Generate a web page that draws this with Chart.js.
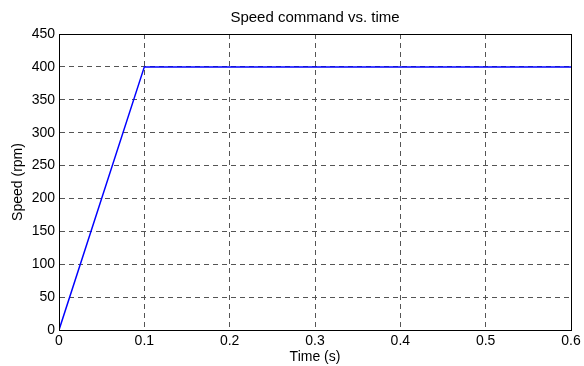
<!DOCTYPE html>
<html>
<head>
<meta charset="utf-8">
<script src="https://cdn.jsdelivr.net/npm/chart.js@4/dist/chart.umd.min.js"></script>
<style>
  html, body { margin: 0; padding: 0; background: #fff; }
  #wrap { width: 584px; height: 366px; }
</style>
</head>
<body>
<div id="wrap"><canvas id="speedchart"></canvas></div>
<script>
// speed command: ramp to 400 rpm in 0.1 s, then hold
const timeS = [0, 0.1, 0.6];
const speedRpm = [0, 400, 400];
const xTicks = [0, 0.1, 0.2, 0.3, 0.4, 0.5, 0.6];
const yTicks = [0, 50, 100, 150, 200, 250, 300, 350, 400, 450];
const chartTitle = 'Speed command vs. time';

const FONT = 'Liberation Sans, Arial, Helvetica, sans-serif';

// box round the plot, like matlab, and the title centred over the axes
const frame = {
    id: 'frame',
    afterDatasetsDraw(chart) {
        const {ctx, chartArea: a} = chart;
        ctx.save();
        ctx.strokeStyle = '#000';
        ctx.lineWidth = 1;
        ctx.setLineDash([]);
        ctx.strokeRect(Math.round(a.left) + 0.5, Math.round(a.top) + 0.5,
            Math.round(a.right - a.left), Math.round(a.bottom - a.top));
        ctx.fillStyle = '#000';
        ctx.font = '15px ' + FONT;
        ctx.textAlign = 'center';
        ctx.textBaseline = 'middle';
        ctx.fillText(chartTitle, (a.left + a.right) / 2, 18);
        ctx.restore();
    }
};

new Chart('speedchart', {
    type: 'scatter',
    data: {
        datasets: [{
            data: timeS.map((t, i) => ({x: t, y: speedRpm[i]})),
            showLine: true,
            borderColor: '#0000ff',
            borderWidth: 1.5,
            pointRadius: 0,
            fill: false
        }]
    },
    options: {
        responsive: true,
        maintainAspectRatio: false,
        animation: false,
        layout: {padding: {left: 10, right: 13, top: 34, bottom: 0}},
        plugins: {
            legend: {display: false},
            tooltip: {enabled: false},
            title: {display: false}
        },
        scales: {
            x: {
                type: 'linear',
                min: 0, max: 0.6,
                afterBuildTicks: s => { s.ticks = xTicks.map(v => ({value: v})); },
                afterFit: s => { s.height = 36; },
                ticks: {
                    color: '#000', padding: 3,
                    font: {family: FONT, size: 14},
                    callback: v => String(v)
                },
                grid: {color: '#555', lineWidth: 1, drawTicks: false},
                border: {display: true, color: '#000', dash: [5, 4]},
                title: {
                    display: true, text: 'Time (s)', color: '#000',
                    font: {family: FONT, size: 14}, padding: 0
                }
            },
            y: {
                type: 'linear',
                min: 0, max: 450,
                afterBuildTicks: s => { s.ticks = yTicks.map(v => ({value: v})); },
                afterFit: s => { s.width = 49; },
                ticks: {
                    color: '#000', padding: 4,
                    font: {family: FONT, size: 14}
                },
                grid: {color: '#555', lineWidth: 1, drawTicks: false},
                border: {display: true, color: '#000', dash: [5, 4]},
                title: {
                    display: true, text: 'Speed (rpm)', color: '#000',
                    font: {family: FONT, size: 14}, padding: 0
                }
            }
        }
    },
    plugins: [frame]
});
</script>
</body>
</html>
